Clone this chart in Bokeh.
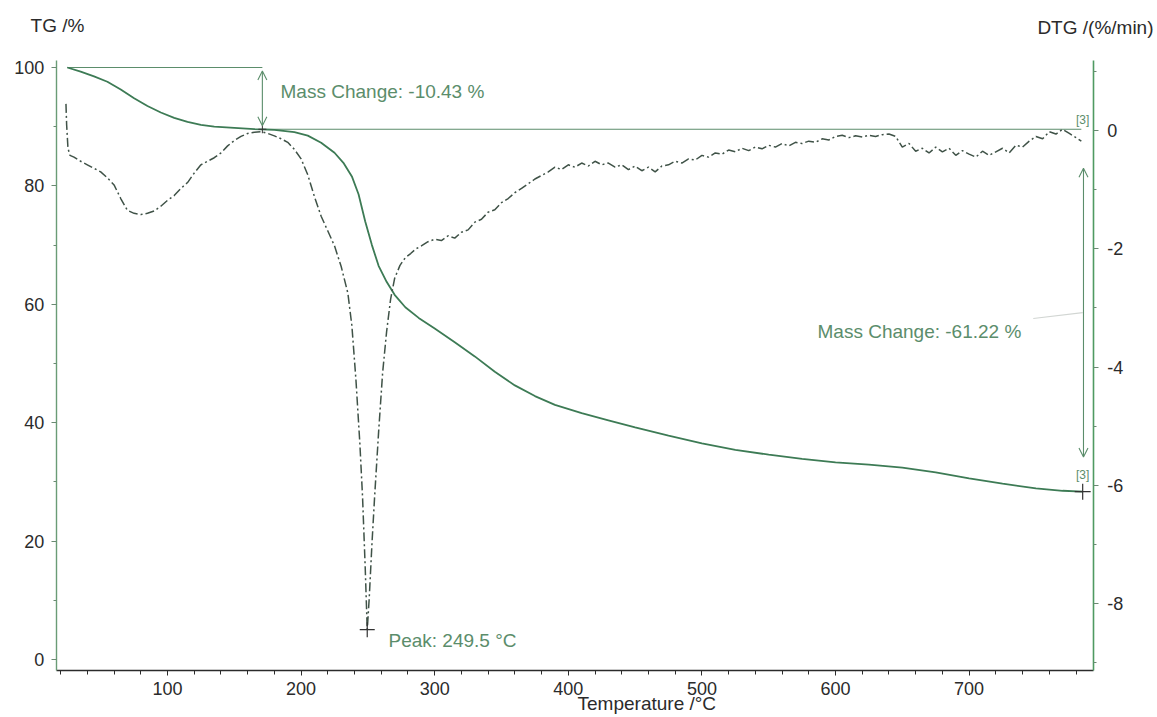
from bokeh.plotting import figure
from bokeh.models import Range1d, LinearAxis, FixedTicker, Arrow, OpenHead, Label
from bokeh.embed import file_html
from bokeh.resources import INLINE

# Thermogravimetric curve: temperature (°C) and residual mass (%)
tg_temp = [25, 35, 45, 55, 65, 75, 85, 95, 105, 115, 125, 135, 150, 165, 180,
           195, 205, 215, 225, 232, 238, 243, 248, 253, 258, 264, 270, 278, 288,
           300, 315, 330, 345, 360, 375, 390, 410, 430, 450, 475, 500, 525, 550,
           575, 600, 625, 650, 675, 700, 725, 750, 770, 785]
tg_mass = [100.0, 99.3, 98.5, 97.6, 96.3, 94.8, 93.5, 92.4, 91.5, 90.8, 90.3,
           90.0, 89.8, 89.6, 89.45, 89.1, 88.5, 87.3, 85.6, 83.8, 81.6, 78.6,
           74.0, 70.0, 66.5, 63.8, 61.6, 59.5, 57.7, 55.9, 53.6, 51.2, 48.6,
           46.3, 44.5, 43.0, 41.6, 40.4, 39.2, 37.8, 36.5, 35.4, 34.6, 33.9,
           33.3, 32.9, 32.4, 31.6, 30.6, 29.7, 28.9, 28.5, 28.35]

# Derivative curve: temperature (°C) and mass-loss rate (%/min)
dtg_temp = [24, 24.5, 25.5, 27, 30, 35, 40, 45, 50, 55, 60, 65, 70, 75, 80, 85,
            90, 95, 100, 105, 110, 115, 120, 125, 130, 135, 140, 145, 150, 155,
            160, 165, 170, 175, 180, 185, 190, 195, 200, 205, 210, 215, 220, 225,
            230, 235, 238, 241, 244, 246, 248, 249.5, 251, 253, 255, 258, 261,
            264, 267, 270, 274, 278, 282, 286, 290, 295, 300, 305, 310, 315, 320,
            325, 330, 335, 340, 345, 350, 355, 360, 365, 370, 375, 380, 385, 390,
            395, 400, 405, 410, 415, 420, 425, 430, 435, 440, 445, 450, 455, 460,
            465, 470, 475, 480, 485, 490, 495, 500, 505, 510, 515, 520, 525, 530,
            535, 540, 545, 550, 555, 560, 565, 570, 575, 580, 585, 590, 595, 600,
            605, 610, 615, 620, 625, 630, 635, 640, 645, 650, 655, 660, 665, 670,
            675, 680, 685, 690, 695, 700, 705, 710, 715, 720, 725, 730, 735, 740,
            745, 750, 755, 760, 765, 770, 775, 780, 784]
dtg_rate = [0.45, 0.1, -0.3, -0.42, -0.45, -0.52, -0.58, -0.64, -0.70, -0.80,
            -0.92, -1.15, -1.35, -1.40, -1.42, -1.40, -1.36, -1.28, -1.18, -1.10,
            -0.98, -0.88, -0.72, -0.58, -0.52, -0.46, -0.38, -0.26, -0.17, -0.10,
            -0.05, -0.03, -0.02, -0.05, -0.09, -0.14, -0.20, -0.32, -0.48, -0.75,
            -1.12, -1.45, -1.70, -1.95, -2.30, -2.75, -3.3, -4.2, -5.3, -6.2, -7.4,
            -8.44, -7.9, -7.0, -6.2, -5.1, -4.1, -3.4, -2.85, -2.50, -2.28, -2.15,
            -2.08, -2.00, -1.95, -1.88, -1.84, -1.86, -1.78, -1.82, -1.72, -1.68,
            -1.55, -1.50, -1.38, -1.34, -1.22, -1.15, -1.05, -0.98, -0.90, -0.82,
            -0.76, -0.70, -0.62, -0.66, -0.58, -0.62, -0.55, -0.60, -0.52, -0.58,
            -0.55, -0.62, -0.58, -0.66, -0.60, -0.68, -0.62, -0.70, -0.60, -0.58,
            -0.52, -0.55, -0.48, -0.50, -0.42, -0.45, -0.38, -0.40, -0.33, -0.36,
            -0.30, -0.34, -0.28, -0.31, -0.25, -0.28, -0.22, -0.26, -0.20, -0.22,
            -0.18, -0.20, -0.14, -0.16, -0.10, -0.08, -0.12, -0.09, -0.11, -0.08,
            -0.10, -0.07, -0.06, -0.10, -0.28, -0.22, -0.35, -0.30, -0.38, -0.28,
            -0.36, -0.30, -0.42, -0.34, -0.40, -0.45, -0.35, -0.42, -0.36, -0.30,
            -0.38, -0.25, -0.28, -0.18, -0.10, -0.14, -0.02, -0.06, 0.02, -0.05,
            -0.12, -0.18]

x_ticks = [100, 200, 300, 400, 500, 600, 700]
x_minor = [t for t in range(20, 800, 20)]
tg_ticks = [0, 20, 40, 60, 80, 100]
tg_minor = [10, 30, 50, 70, 90]
dtg_ticks = [-8, -6, -4, -2, 0]
dtg_minor = [-9, -7, -5, -3, -1, 1]

# Evaluated steps
start_mass = 100.0
step1_loss = 10.43
step2_loss = 61.22
step1_temp = 171.0
end_temp = 785.0
end_mass = 28.35
peak_temp = 249.5
peak_rate = -8.44

# Axis extents (data units)
T_MIN, T_MAX = 16.8, 793.0
TG_MIN, TG_MAX = -1.86, 101.18
DTG_MIN, DTG_MAX = -9.13, 1.18

FONT = "Liberation Sans"
CURVE = "#3d7b55"
NOTE = "#5b8d6b"
AXIS_GREEN = "#4f9a62"
DARK = "#2b2b2b"

# The frame covers the whole canvas; axes sit at fixed positions inside it so
# that the axis titles can be placed freely around them.
p = figure(width=1157, height=717, output_backend="svg", toolbar_location=None,
           x_range=Range1d(-25.0, 841.0), y_range=Range1d(-9.80, 111.32),
           min_border=0, min_border_left=0, min_border_right=0,
           min_border_top=0, min_border_bottom=0)
p.extra_y_ranges = {"dtg": Range1d(-9.924, 2.198)}
p.outline_line_color = None
p.grid.visible = False
p.background_fill_color = "white"
p.border_fill_color = "white"

# bottom axis
xa = p.xaxis[0]
xa.fixed_location = TG_MIN
xa.bounds = (T_MIN, T_MAX)
xa.ticker = FixedTicker(ticks=x_ticks, minor_ticks=x_minor)
xa.axis_line_color = DARK
xa.axis_line_width = 1.6
xa.major_tick_line_color = DARK
xa.minor_tick_line_color = DARK
xa.major_tick_in = 0
xa.major_tick_out = 5
xa.minor_tick_in = 0
xa.minor_tick_out = 4
xa.major_label_standoff = 7
xa.major_label_text_font = FONT
xa.major_label_text_font_size = "18px"
xa.major_label_text_color = DARK

# left TG axis
ya = p.yaxis[0]
ya.fixed_location = T_MIN
ya.bounds = (TG_MIN, TG_MAX)
ya.ticker = FixedTicker(ticks=tg_ticks, minor_ticks=tg_minor)
ya.axis_line_color = "#6a9c76"
ya.axis_line_width = 1.4
ya.major_tick_line_color = "#6a8a72"
ya.minor_tick_line_color = "#6a8a72"
ya.major_tick_in = 0
ya.major_tick_out = 5
ya.minor_tick_in = 0
ya.minor_tick_out = 3
ya.major_label_standoff = 7
ya.major_label_text_font = FONT
ya.major_label_text_font_size = "18px"
ya.major_label_text_color = DARK

# right DTG axis
ra = LinearAxis(y_range_name="dtg",
                ticker=FixedTicker(ticks=dtg_ticks, minor_ticks=dtg_minor))
ra.fixed_location = T_MAX
ra.bounds = (DTG_MIN, DTG_MAX)
ra.major_label_overrides = {t: str(t) for t in dtg_ticks}
ra.axis_line_color = AXIS_GREEN
ra.axis_line_width = 1.6
ra.major_tick_line_color = "#6a8a72"
ra.minor_tick_line_color = "#6a8a72"
ra.major_tick_in = 0
ra.major_tick_out = 5
ra.minor_tick_in = 0
ra.minor_tick_out = 3
ra.major_label_standoff = 9
ra.major_label_text_font = FONT
ra.major_label_text_font_size = "18px"
ra.major_label_text_color = DARK
p.add_layout(ra, "right")

# step reference lines
step1_end = start_mass - step1_loss
p.line([tg_temp[0], step1_temp], [start_mass, start_mass],
       line_color=NOTE, line_width=1.2)
p.line([step1_temp, end_temp - 1], [step1_end, step1_end],
       line_color=NOTE, line_width=1.2)

# curves
p.line(tg_temp, tg_mass, line_color=CURVE, line_width=1.8)
p.line(dtg_temp, dtg_rate, y_range_name="dtg", line_color="#3f5247",
       line_width=1.5, line_dash="9 3 2 3")

# markers
p.scatter([peak_temp], [peak_rate], y_range_name="dtg", marker="cross",
          size=15, line_color="#333333", line_width=1.2)
p.scatter([end_temp], [end_mass], marker="cross", size=16,
          line_color="#333333", line_width=1.2)
p.scatter([step1_temp], [step1_end], marker="cross", size=8,
          line_color="#333333", line_width=1.0)

# mass-change arrows
p.add_layout(Arrow(x_start=step1_temp, y_start=start_mass - 0.6,
                   x_end=step1_temp, y_end=step1_end + 0.6,
                   line_color=NOTE, line_width=1.1,
                   start=OpenHead(size=9, line_color=NOTE, line_width=1.1),
                   end=OpenHead(size=9, line_color=NOTE, line_width=1.1)))
p.add_layout(Arrow(x_start=end_temp + 0.6, y_start=83.0,
                   x_end=end_temp + 0.6, y_end=34.2,
                   line_color=NOTE, line_width=1.1,
                   start=OpenHead(size=9, line_color=NOTE, line_width=1.1),
                   end=OpenHead(size=9, line_color=NOTE, line_width=1.1)))
p.line([748, end_temp], [57.6, 58.6], line_color="#d2d6d3", line_width=1.2)

# annotation texts
def note(x, y, text, size="19px"):
    p.add_layout(Label(x=x, y=y, text=text, text_font=FONT, text_font_size=size,
                       text_color=NOTE, text_baseline="middle"))

note(184.6, 95.9, "Mass Change: -10.43 %")
note(586.5, 55.4, "Mass Change: -61.22 %")
note(265.4, 3.2, "Peak: 249.5 °C")
p.add_layout(Label(x=end_temp, y=89.9, text="[3]", text_font=FONT,
                   text_font_size="12px", text_color=NOTE, text_align="center",
                   text_baseline="bottom"))
p.add_layout(Label(x=end_temp, y=29.9, text="[3]", text_font=FONT,
                   text_font_size="12px", text_color=NOTE, text_align="center",
                   text_baseline="bottom"))

# axis titles
def title(x, y, text, align="left", baseline="middle"):
    p.add_layout(Label(x=x, y=y, text=text, text_font=FONT,
                       text_font_size="19px", text_color=DARK,
                       text_align=align, text_baseline=baseline))

title(-2.5, 107.1, "TG /%")
title(838.0, 106.8, "DTG /(%/min)", align="right")
title(406.9, -9.25, "Temperature /°C", baseline="bottom")

open("out.html", "w").write(file_html(p, INLINE))
